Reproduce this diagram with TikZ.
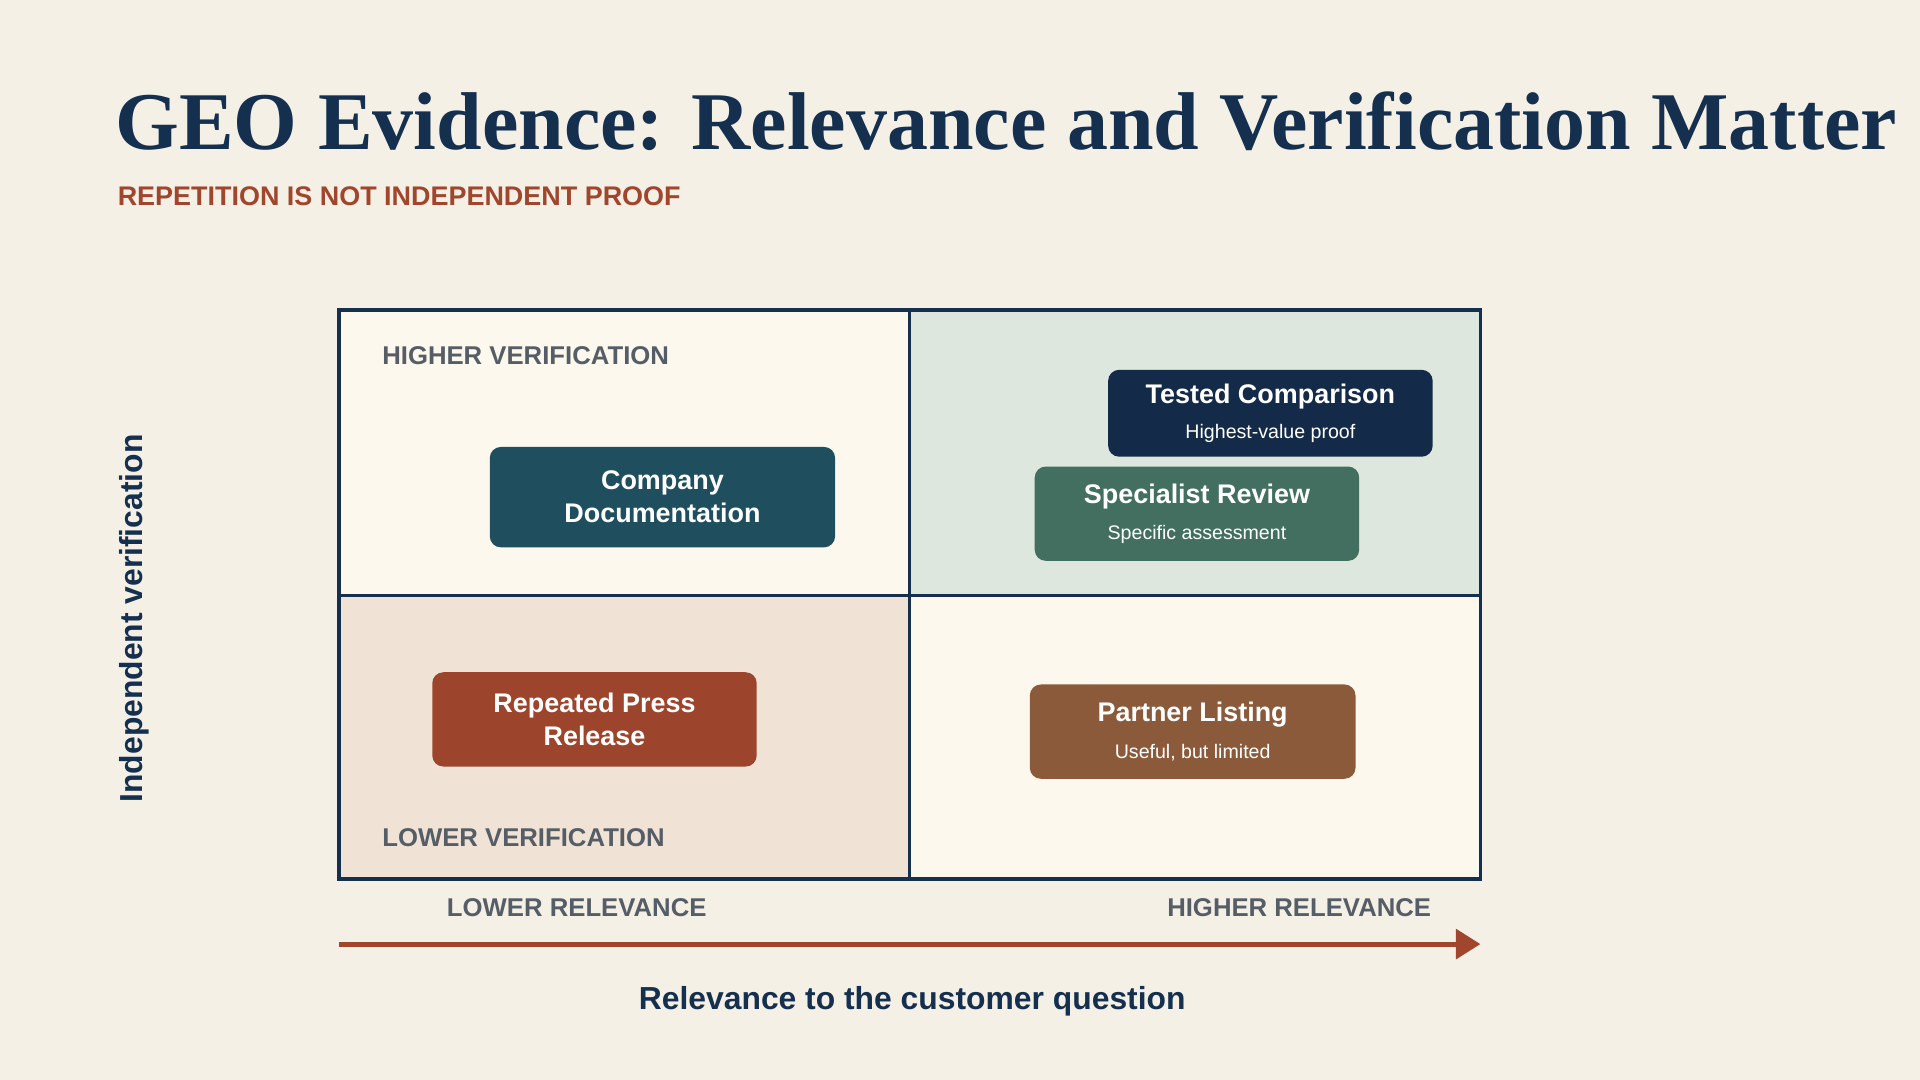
\documentclass[tikz,border=0pt]{standalone}
\usepackage{fontspec}
\usepackage{graphicx}
\setmainfont{Liberation Sans}
\newfontfamily\titlefont{Liberation Serif}
\usetikzlibrary{arrows.meta}
\definecolor{bg}{HTML}{F5F0E6}
\definecolor{cream}{HTML}{FDF8EE}
\definecolor{qgreen}{HTML}{DDE7DD}
\definecolor{qtan}{HTML}{F0E3D6}
\definecolor{navy}{HTML}{15304F}
\definecolor{rust}{HTML}{A0462C}
\definecolor{lab}{HTML}{555E66}
\definecolor{cnavy}{HTML}{132B48}
\definecolor{cgreen}{HTML}{436F61}
\definecolor{cteal}{HTML}{1F4F5F}
\definecolor{crust}{HTML}{9C452C}
\definecolor{cbrown}{HTML}{8A5A3A}
\begin{document}
\begin{tikzpicture}[x=1pt,y=-1pt,
 card/.style={rounded corners=9pt,text=white,align=center,font=\fontsize{22}{27}\selectfont\bfseries,inner sep=0pt},
 qlab/.style={text=lab,font=\fontsize{21}{25}\selectfont\bfseries}]
\useasboundingbox (0,0) rectangle (1568,882);
\fill[bg] (0,0) rectangle (1568,882);
\node[anchor=base west,text=navy,inner sep=0pt] (title) at (94,122) {\resizebox{1455pt}{!}{\titlefont\fontsize{66}{70}\selectfont\bfseries GEO Evidence: Relevance and Verification Matter}};
\node[anchor=base west,text=rust,font=\fontsize{22}{26}\selectfont\bfseries,inner sep=0pt] (subt) at (96,168) {REPETITION IS NOT INDEPENDENT PROOF};
\fill[cream] (277,253) rectangle (743,486);
\fill[qgreen] (743,253) rectangle (1209,486);
\fill[qtan] (277,486) rectangle (743,718);
\fill[cream] (743,486) rectangle (1209,718);
\draw[navy,line width=3pt] (277,253) rectangle (1209,718);
\draw[navy,line width=2.5pt] (743,253) -- (743,718) (277,486) -- (1209,486);
\node[qlab,anchor=base west,inner sep=0pt] (hv) at (312,298) {HIGHER VERIFICATION};
\node[qlab,anchor=base west,inner sep=0pt] (lv) at (312,691) {LOWER VERIFICATION};
\node[qlab,inner sep=0pt] (lr) at (471,741) {LOWER RELEVANCE};
\node[qlab,inner sep=0pt] (hr) at (1061,741) {HIGHER RELEVANCE};
\coordinate (a0) at (277,771);
\coordinate (a1) at (1209,771);
\draw[rust,line width=4pt,-{Triangle[length=20pt,width=24pt]}] (a0) -- (a1);
\node[text=navy,font=\fontsize{26}{30}\selectfont\bfseries] (xl) at (745,818) {Relevance to the customer question};
\node[text=navy,font=\fontsize{26}{30}\selectfont\bfseries,rotate=90] (yl) at (110,505) {Independent verification};
\node[card,fill=cnavy,minimum width=265pt,minimum height=71pt] (tc) at (1037.5,337.5) {Tested Comparison\\[2pt]{\fontsize{16}{19}\selectfont\mdseries Highest-value proof}};
\node[card,fill=cgreen,minimum width=265pt,minimum height=77pt] (sr) at (977.5,419.5) {Specialist Review\\[3pt]{\fontsize{16}{19}\selectfont\mdseries Specific assessment}};
\node[card,fill=cteal,minimum width=282pt,minimum height=82pt] (cd) at (541,406) {Company\\Documentation};
\node[card,fill=crust,minimum width=265pt,minimum height=77pt] (rp) at (485.5,587.5) {Repeated Press\\Release};
\node[card,fill=cbrown,minimum width=266pt,minimum height=77pt] (pl) at (974,597.5) {Partner Listing\\[3pt]{\fontsize{16}{19}\selectfont\mdseries Useful, but limited}};
\end{tikzpicture}
\end{document}
